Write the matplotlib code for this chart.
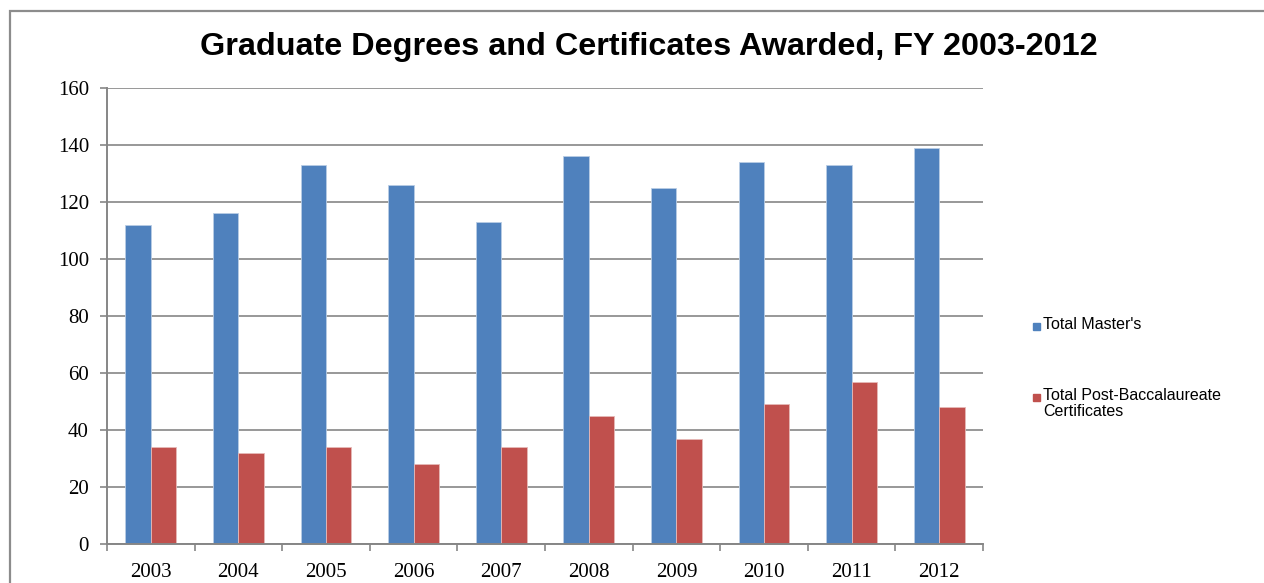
import matplotlib.pyplot as plt
from matplotlib.patches import Rectangle
import numpy as np

years = ["2003", "2004", "2005", "2006", "2007", "2008", "2009", "2010", "2011", "2012"]
masters = [112, 116, 133, 126, 113, 136, 125, 134, 133, 139]
certificates = [34, 32, 34, 28, 34, 45, 37, 49, 57, 48]
series_names = ["Total Master's", "Total Post-Baccalaureate\nCertificates"]

azul = "#4f81bd"
rojo = "#c0504d"
gris = "#868686"

W, H = 1264, 583
fig = plt.figure(figsize=(W / 100, H / 100), dpi=100)
ax = fig.add_axes([107 / W, 1 - 544 / H, (983 - 107) / W, (544 - 88) / H])

x = np.arange(len(years))
ancho = 0.29
ax.bar(x - ancho / 2, masters, ancho, color=azul, edgecolor="#b9cde5", linewidth=0.6)
ax.bar(x + ancho / 2, certificates, ancho, color=rojo, edgecolor="#e6b9b8", linewidth=0.6)

ax.set_xlim(-0.5, len(years) - 0.5)
ax.set_ylim(0, 160)
ax.set_yticks(range(0, 161, 20))
ax.yaxis.grid(True, color=gris, linewidth=1.2)
ax.set_axisbelow(True)

# etiquetas de categoria centradas, ticks en los limites
ax.set_xticks(x)
ax.set_xticklabels(years)
ax.set_xticks(np.arange(-0.5, len(years)), minor=True)
ax.tick_params(axis="x", which="major", length=0, pad=14)
ax.tick_params(axis="x", which="minor", length=5, color=gris, width=1.2)
ax.tick_params(axis="y", length=5, color=gris, width=1.2, pad=8)

for lbl in ax.get_xticklabels() + ax.get_yticklabels():
    lbl.set_fontfamily("Liberation Serif")
    lbl.set_fontsize(15)

for lado in ["top", "right"]:
    ax.spines[lado].set_visible(False)
for lado in ["left", "bottom"]:
    ax.spines[lado].set_color(gris)
    ax.spines[lado].set_linewidth(1.4)

fig.text(649 / W, 1 - 47 / H, "Graduate Degrees and Certificates Awarded, FY 2003-2012",
         ha="center", va="center", fontsize=23.3, fontweight="bold", family="Liberation Sans")

# leyenda manual
for nombre, color, yc in [(series_names[0], azul, 326), (series_names[1], rojo, 397)]:
    fig.add_artist(Rectangle((1033 / W, 1 - (yc + 4) / H), 7 / W, 7 / H,
                             transform=fig.transFigure, color=color))
    fig.text(1043 / W, 1 - (yc - 9) / H, nombre, ha="left", va="top",
             fontsize=11.5, family="Liberation Sans", linespacing=1.05)

# borde del grafico
fig.add_artist(Rectangle((10.5 / W, -0.1), 1.2, 1 - 10.5 / H + 0.1,
                         transform=fig.transFigure, fill=False,
                         edgecolor="#8c8c8c", linewidth=1.6))

fig.savefig("out.png", dpi=100)
